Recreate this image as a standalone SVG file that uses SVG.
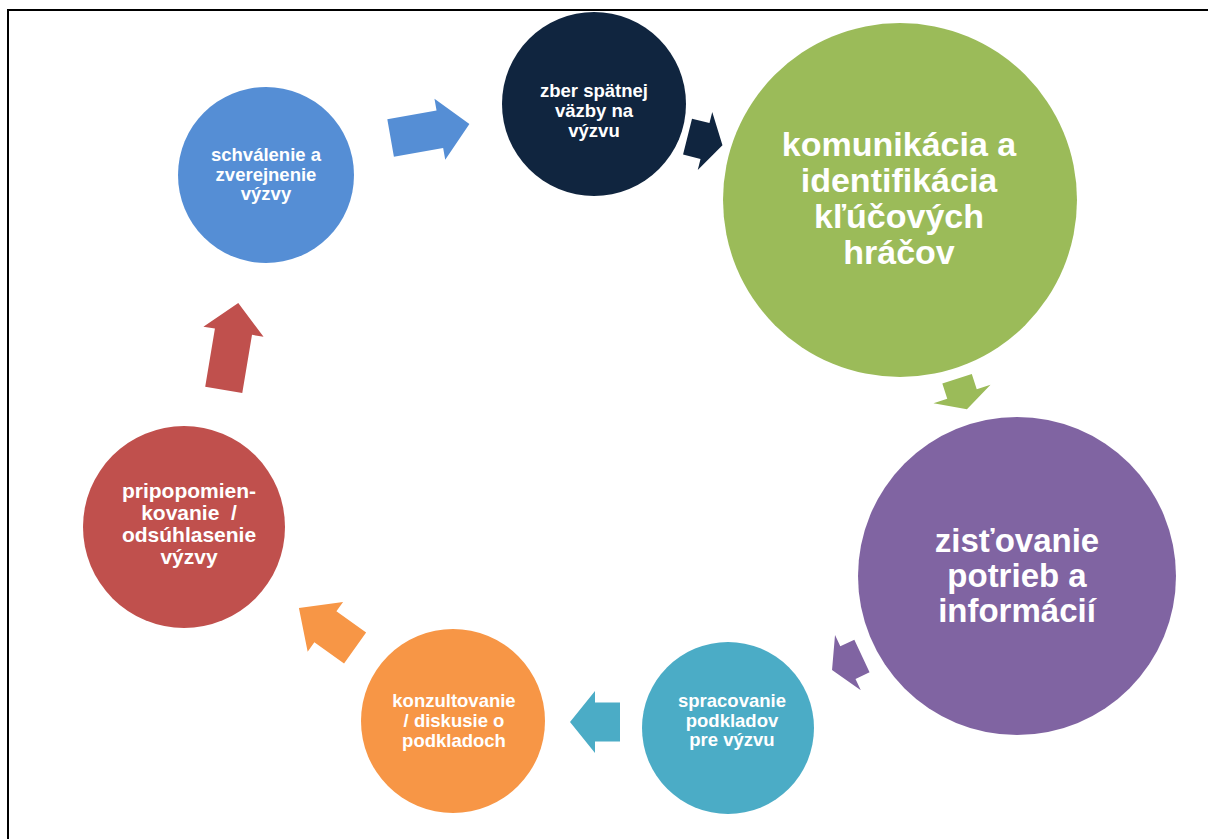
<svg xmlns="http://www.w3.org/2000/svg" width="1208" height="839" viewBox="0 0 1208 839">
<style>
.t{font-family:"Liberation Sans",Arial,sans-serif;font-weight:bold;fill:#fff;text-anchor:middle}
.s{font-size:18.5px}
.m{font-size:21px}
.l{font-size:34px}
.p{font-size:33px}
</style>
<rect x="0" y="0" width="1208" height="839" fill="#fff"/>
<rect x="8" y="10" width="1215" height="845" fill="none" stroke="#000" stroke-width="2"/>
<g id="connectors">
<polygon fill="#558ED5" transform="translate(430,131) rotate(-10)" points="-40,-19 10,-19 10,-31 40,0 10,31 10,19 -40,19"/>
<polygon fill="#10253F" transform="translate(705,141) rotate(14)" points="-18,-18.5 0,-18.5 0,-30 18,0 0,30 0,18.5 -18,18.5"/>
<polygon fill="#9BBB59" transform="translate(962,394) rotate(72)" points="-16,-15.5 0,-15.5 0,-30 16,0 0,30 0,15.5 -16,15.5"/>
<polygon fill="#8064A2" transform="translate(847,663) rotate(155)" points="-16.5,-18 -1,-18 -1,-30.5 16.5,0 -1,30.5 -1,18 -16.5,18"/>
<polygon fill="#4BACC6" transform="translate(595,722) rotate(180)" points="-25,-19.5 0,-19.5 0,-31 25,0 0,31 0,19.5 -25,19.5"/>
<polygon fill="#F79646" transform="translate(327,628) rotate(-144.5)" points="-34.5,-19 2,-19 2,-30.5 34.5,0 2,30.5 2,19 -34.5,19"/>
<polygon fill="#C0504D" transform="translate(231,346.5) rotate(-80.5)" points="-44,-18.8 15,-18.8 15,-30.5 44,0 15,30.5 15,18.8 -44,18.8"/>
</g>
<g id="n-schvalenie">
<circle cx="266" cy="175" r="88" fill="#558ED5"/>
<text class="t s" x="266" y="161">schválenie a</text>
<text class="t s" x="266" y="181">zverejnenie</text>
<text class="t s" x="266" y="200">výzvy</text>
</g>
<g id="n-zber">
<circle cx="594" cy="104" r="92" fill="#10253F"/>
<text class="t s" x="594" y="97">zber spätnej</text>
<text class="t s" x="594" y="117">väzby na</text>
<text class="t s" x="594" y="137">výzvu</text>
</g>
<g id="n-komunikacia">
<circle cx="900" cy="200" r="177" fill="#9BBB59"/>
<text class="t l" x="899" y="156">komunikácia a</text>
<text class="t l" x="899" y="192">identifikácia</text>
<text class="t l" x="899" y="228">kľúčových</text>
<text class="t l" x="899" y="264">hráčov</text>
</g>
<g id="n-zistovanie">
<circle cx="1017" cy="576" r="159" fill="#8064A2"/>
<text class="t p" x="1017" y="552">zisťovanie</text>
<text class="t p" x="1017" y="587">potrieb a</text>
<text class="t p" x="1017" y="622">informácií</text>
</g>
<g id="n-spracovanie">
<circle cx="728" cy="728" r="86" fill="#4BACC6"/>
<text class="t s" x="732" y="707">spracovanie</text>
<text class="t s" x="732" y="727">podkladov</text>
<text class="t s" x="732" y="746">pre výzvu</text>
</g>
<g id="n-konzultovanie">
<circle cx="453" cy="721" r="92" fill="#F79646"/>
<text class="t s" x="454" y="707">konzultovanie</text>
<text class="t s" x="454" y="727">/ diskusie o</text>
<text class="t s" x="454" y="747">podkladoch</text>
</g>
<g id="n-pripomienkovanie">
<circle cx="184" cy="527" r="101" fill="#C0504D"/>
<text class="t m" x="189" y="498">pripopomien-</text>
<text class="t m" x="189" y="520" style="white-space:pre">kovanie  /</text>
<text class="t m" x="189" y="542">odsúhlasenie</text>
<text class="t m" x="189" y="564">výzvy</text>
</g>
</svg>
